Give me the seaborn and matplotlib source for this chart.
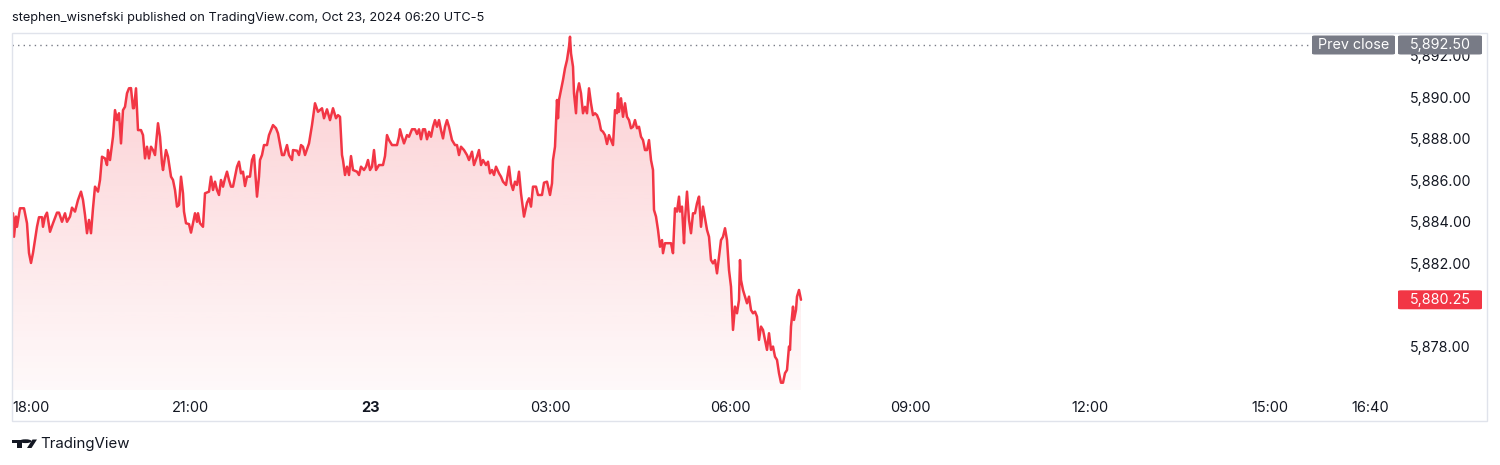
import numpy as np
import pandas as pd
import matplotlib
matplotlib.use("Agg")
import matplotlib.pyplot as plt
import seaborn as sns
from matplotlib.patches import Rectangle, FancyBboxPatch, PathPatch, Circle, Polygon

# ES futures, 1-min session (minutes after 18:00 on Oct 22)
minutes = [
    3, 4, 6, 7, 10, 14, 17, 19, 21, 23, 27, 29, 32, 33, 35, 37, 40, 43, 47, 49,
    52, 55, 57, 60, 62, 65, 68, 71, 73, 75, 77, 79, 81, 83, 85, 88, 90, 92, 95, 97,
    98, 100, 103, 105, 107, 109, 111, 113, 115, 117, 119, 121, 123, 124, 126, 128, 131, 133, 135, 137,
    139, 141, 143, 145, 147, 148, 150, 152, 153, 156, 158, 161, 163, 165, 167, 169, 171, 173, 174, 176,
    179, 181, 183, 185, 187, 188, 190, 193, 195, 199, 201, 203, 205, 207, 209, 211, 213, 215, 217, 219,
    221, 223, 227, 229, 231, 233, 235, 237, 240, 242, 244, 247, 249, 250, 252, 254, 257, 259, 261, 263,
    266, 268, 272, 274, 277, 279, 282, 283, 287, 289, 291, 293, 295, 299, 302, 305, 308, 312, 314, 317,
    320, 323, 326, 328, 330, 332, 333, 335, 337, 339, 341, 343, 347, 349, 351, 354, 356, 358, 360, 362,
    364, 366, 369, 373, 375, 377, 379, 382, 387, 389, 390, 392, 394, 397, 399, 402, 405, 407, 409, 411,
    413, 415, 417, 419, 421, 423, 425, 427, 429, 431, 433, 435, 437, 439, 442, 445, 447, 449, 451, 454,
    457, 459, 462, 464, 467, 469, 471, 473, 476, 478, 480, 482, 484, 486, 489, 491, 493, 496, 499, 501,
    503, 505, 507, 509, 511, 514, 517, 519, 521, 523, 526, 528, 532, 534, 537, 540, 542, 543, 545, 547,
    548, 549, 551, 553, 555, 557, 559, 560, 561, 563, 564, 566, 567, 569, 571, 573, 575, 577, 579, 581,
    583, 585, 587, 589, 591, 593, 595, 597, 599, 601, 603, 605, 607, 608, 609, 611, 613, 615, 617, 619,
    621, 623, 625, 627, 629, 631, 633, 635, 637, 639, 641, 643, 644, 646, 648, 650, 652, 653, 655, 659,
    661, 663, 665, 667, 669, 670, 672, 674, 675, 677, 679, 681, 683, 685, 687, 689, 691, 693, 695, 697,
    699, 701, 703, 705, 707, 709, 711, 713, 715, 717, 719, 721, 723, 725, 727, 729, 730, 731, 733, 735,
    737, 739, 741, 743, 745, 747, 749, 751, 753, 755, 757, 759, 761, 763, 765, 767, 769, 771, 773, 775,
    777, 779, 780, 781, 783, 784, 786, 787, 789, 791,
]
prices = [
    5884.41, 5883.28, 5884.25, 5883.76, 5884.65, 5884.65, 5883.93, 5882.50, 5882.02, 5882.50,
    5883.76, 5884.22, 5884.22, 5883.76, 5884.25, 5884.44, 5883.52, 5883.93, 5884.44, 5884.44,
    5884.00, 5884.41, 5884.00, 5884.25, 5884.68, 5884.49, 5885.05, 5885.45, 5885.05, 5884.33,
    5883.45, 5884.09, 5883.45, 5884.65, 5885.69, 5885.45, 5886.01, 5887.13, 5887.05, 5886.73,
    5887.45, 5886.97, 5888.09, 5889.37, 5888.89, 5889.22, 5887.77, 5889.37, 5889.53, 5890.18,
    5890.42, 5890.43, 5889.46, 5889.47, 5890.42, 5888.41, 5888.41, 5888.17, 5887.05, 5887.61,
    5887.05, 5887.61, 5887.45, 5887.21, 5888.25, 5888.74, 5888.09, 5886.81, 5886.49, 5887.45,
    5887.13, 5886.17, 5886.01, 5885.53, 5884.73, 5884.81, 5886.17, 5885.37, 5884.49, 5883.93,
    5883.89, 5883.48, 5883.93, 5884.41, 5884.00, 5884.41, 5883.93, 5883.76, 5885.37, 5885.45,
    5886.17, 5885.53, 5885.93, 5885.53, 5885.29, 5886.01, 5885.69, 5886.09, 5886.41, 5886.01,
    5885.69, 5885.69, 5886.65, 5886.89, 5886.33, 5886.41, 5885.72, 5886.17, 5886.17, 5886.97,
    5887.21, 5885.21, 5886.17, 5886.97, 5887.21, 5887.69, 5887.69, 5888.17, 5888.41, 5888.65,
    5888.50, 5888.25, 5887.21, 5887.21, 5887.69, 5887.21, 5886.97, 5887.45, 5887.42, 5887.21,
    5887.69, 5887.61, 5887.21, 5887.77, 5888.65, 5889.70, 5889.29, 5889.46, 5888.98, 5889.41,
    5888.89, 5889.46, 5888.98, 5889.13, 5889.05, 5887.21, 5886.97, 5886.25, 5886.65, 5886.25,
    5887.16, 5886.49, 5886.41, 5886.25, 5886.65, 5886.49, 5886.65, 5886.97, 5886.49, 5886.65,
    5887.45, 5886.49, 5886.73, 5886.73, 5887.16, 5888.17, 5887.93, 5887.69, 5887.69, 5888.09,
    5888.45, 5888.09, 5887.77, 5888.17, 5888.09, 5888.45, 5888.45, 5888.22, 5888.45, 5887.97,
    5888.45, 5888.45, 5887.97, 5888.33, 5888.09, 5888.57, 5888.89, 5888.57, 5888.89, 5888.41,
    5888.01, 5888.57, 5888.89, 5888.57, 5887.93, 5887.69, 5887.69, 5887.21, 5887.61, 5887.45,
    5887.21, 5886.97, 5887.37, 5886.73, 5887.13, 5887.45, 5886.73, 5886.97, 5886.73, 5886.89,
    5886.33, 5886.49, 5886.25, 5886.65, 5886.33, 5886.17, 5885.93, 5885.77, 5886.65, 5885.85,
    5885.53, 5885.93, 5885.77, 5886.41, 5885.37, 5884.25, 5884.92, 5885.13, 5884.73, 5885.69,
    5885.69, 5885.29, 5885.29, 5885.88, 5885.93, 5885.29, 5885.85, 5886.97, 5887.61, 5889.86,
    5888.98, 5889.86, 5890.34, 5890.82, 5891.38, 5891.78, 5892.42, 5892.90, 5892.10, 5891.46,
    5890.18, 5889.22, 5890.18, 5890.66, 5890.18, 5889.22, 5889.53, 5889.22, 5890.42, 5889.70,
    5889.13, 5889.22, 5889.13, 5888.89, 5888.41, 5888.33, 5888.17, 5887.74, 5888.17, 5887.93,
    5887.69, 5889.37, 5889.22, 5890.18, 5889.29, 5889.94, 5889.05, 5889.70, 5889.05, 5888.89,
    5888.50, 5888.57, 5888.89, 5888.50, 5888.57, 5888.09, 5887.93, 5887.45, 5887.45, 5887.93,
    5886.97, 5886.49, 5884.57, 5884.25, 5883.61, 5882.80, 5883.12, 5882.49, 5882.97, 5882.97,
    5882.97, 5882.49, 5884.65, 5884.49, 5885.21, 5884.49, 5884.73, 5882.97, 5884.09, 5885.45,
    5884.09, 5883.45, 5884.41, 5884.41, 5884.89, 5885.21, 5883.76, 5884.73, 5884.17, 5883.61,
    5883.28, 5882.16, 5882.00, 5882.16, 5881.52, 5882.32, 5883.12, 5883.28, 5883.69, 5883.12,
    5881.68, 5880.88, 5878.80, 5879.92, 5879.60, 5880.24, 5882.16, 5881.20, 5880.72, 5880.40,
    5880.08, 5880.40, 5879.76, 5879.60, 5879.68, 5879.44, 5878.32, 5878.96, 5878.80, 5878.32,
    5877.84, 5878.64, 5877.84, 5878.00, 5877.51, 5877.36, 5876.72, 5876.26, 5876.26, 5876.72,
    5876.87, 5878.00, 5877.84, 5878.96, 5879.92, 5879.28, 5879.76, 5880.40, 5880.72, 5880.25,
]

x_ticks = [2, 180, 360, 540, 720, 900, 1080, 1260, 1360]
x_labels = ["18:00", "21:00", "23", "03:00", "06:00", "09:00", "12:00", "15:00", "16:40"]
# 5,880.00 sits under the last-price badge, so it is not labelled
y_ticks = [5878, 5882, 5884, 5886, 5888, 5890, 5892]
prev_close = 5892.50
last_price = 5880.25
title = "stephen_wisnefski published on TradingView.com, Oct 23, 2024 06:20 UTC-5"

RED = "#f23645"
GRAY = "#787b86"
INK = "#131722"
BORDER = "#e0e3eb"

df = pd.DataFrame({"minute": minutes, "price": prices})

sns.set_theme(style="white")
plt.rcParams["font.family"] = ["Inter", "DejaVu Sans"]

W, H = 1500, 465
fig = plt.figure(figsize=(W / 100, H / 100), dpi=100)
fig.patch.set_facecolor("white")


def fx(px):
    return px / W


def fy(py):
    return 1 - py / H


# pane (pixels): x 12..1397, y 33..390
ax = fig.add_axes([fx(12), fy(390), fx(1397 - 12), (390 - 33) / H])
x0, x1 = 2, 1387
y0, y1 = 5875.91, 5893.08

# gradient area under the line
grad = np.zeros((256, 1, 4))
grad[..., :3] = matplotlib.colors.to_rgb(RED)
grad[..., 3] = np.linspace(0.25, 0.03, 256)[:, None]
im = ax.imshow(grad, aspect="auto", origin="upper",
               extent=[x0, x1, y0, df["price"].max()], zorder=1)
fill = ax.fill_between(df["minute"], df["price"], y0, color="none", lw=0)
clip = PathPatch(fill.get_paths()[0], transform=ax.transData,
                 facecolor="none", edgecolor="none")
ax.add_patch(clip)
im.set_clip_path(clip)

sns.lineplot(data=df, x="minute", y="price", color=RED, linewidth=1.8,
             ax=ax, zorder=3)

# previous close dotted line
ax.axhline(prev_close, xmin=0, xmax=(1310 - 12) / (1397 - 12), color=GRAY,
           lw=1, ls=(0, (1, 3)), zorder=2)

ax.set_xlim(x0, x1)
ax.set_ylim(y0, y1)
ax.set_xlabel("")
ax.set_ylabel("")
for s in ax.spines.values():
    s.set_visible(False)

ax.set_xticks(x_ticks)
ax.set_xticklabels(x_labels)
ax.tick_params(axis="x", length=0, pad=8, labelsize=10.5, labelcolor=INK)
for lab in ax.get_xticklabels():
    if lab.get_text() == "23":
        lab.set_fontweight("bold")
    if lab.get_text() == "18:00":
        lab.set_horizontalalignment("left")

ax.yaxis.tick_right()
ax.set_yticks(y_ticks)
ax.set_yticklabels([f"{v:,.2f}" for v in y_ticks])
ax.tick_params(axis="y", length=0, pad=9, labelsize=10.3, labelcolor=INK)

# outer frame
fig.add_artist(Rectangle((fx(12), fy(421)), fx(1487 - 12), (421 - 33) / H,
                         transform=fig.transFigure, fill=False,
                         edgecolor=BORDER, lw=1))


def price_box(x_left, x_right, yc, text, color):
    h = 19
    fig.add_artist(FancyBboxPatch((fx(x_left), fy(yc + h / 2)), fx(x_right - x_left), h / H,
                                  boxstyle="round,pad=0,rounding_size=0.002",
                                  transform=fig.transFigure, facecolor=color,
                                  edgecolor="none", zorder=5))
    fig.text(fx((x_left + x_right) / 2), fy(yc), text, color="white", fontsize=10.3,
             ha="center", va="center", zorder=6)


yc_prev = 97 - (prev_close - 5890) * 20.8
yc_last = 97 - (last_price - 5890) * 20.8
price_box(1312, 1395, yc_prev, "Prev close", GRAY)
price_box(1398, 1482, yc_prev, f"{prev_close:,.2f}", GRAY)
price_box(1398, 1482, yc_last, f"{last_price:,.2f}", RED)

# header and footer
fig.text(fx(12), fy(18), title, color=INK, fontsize=9.2, ha="left", va="center")

fig.add_artist(Rectangle((fx(12), fy(443)), fx(10), 3.5 / H, transform=fig.transFigure,
                         color=INK, lw=0))
fig.add_artist(Rectangle((fx(17), fy(448)), fx(5), 8 / H, transform=fig.transFigure,
                         color=INK, lw=0))
fig.add_artist(Circle((fx(25.5), fy(441.2)), 1.9 / H, transform=fig.transFigure,
                      color=INK, lw=0))
fig.add_artist(Polygon([(fx(27), fy(448)), (fx(31.5), fy(448)), (fx(37), fy(439.5)),
                        (fx(32.5), fy(439.5))], closed=True, transform=fig.transFigure,
                       color=INK, lw=0))
fig.text(fx(40), fy(443.5), "TradingView", color=INK, fontsize=10.8, ha="left", va="center")

fig.savefig("out.png", dpi=100, facecolor="white")
